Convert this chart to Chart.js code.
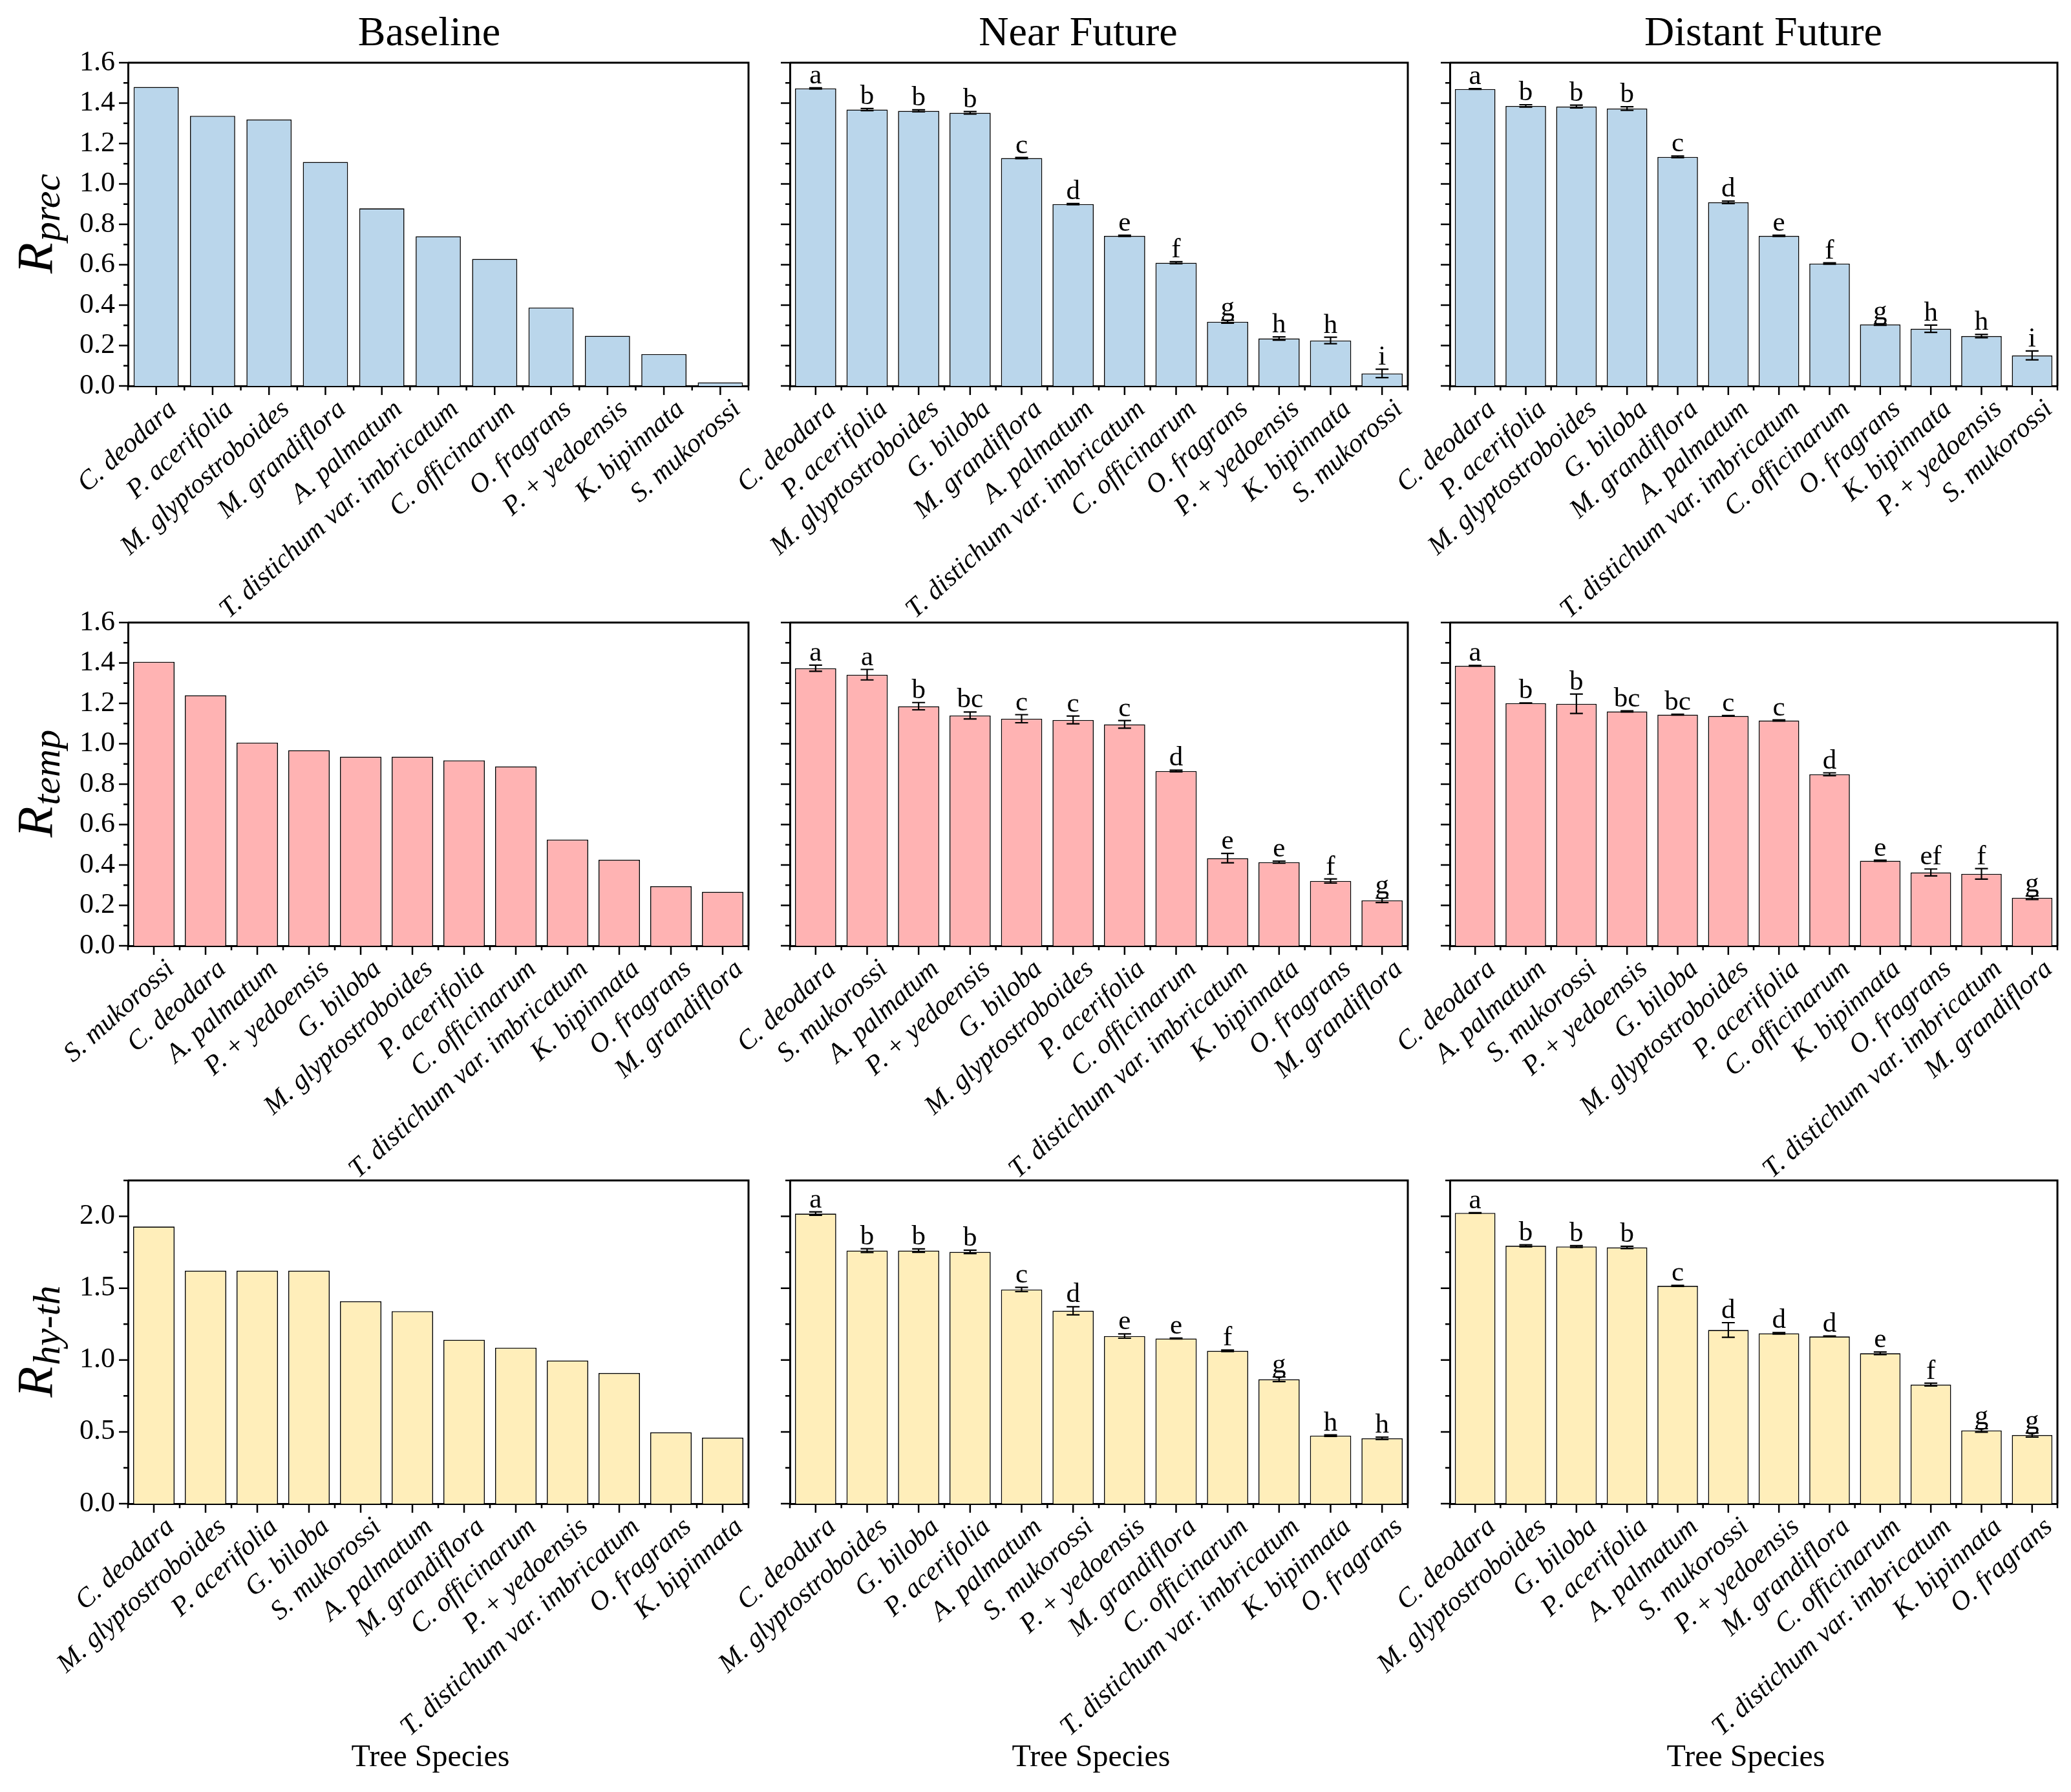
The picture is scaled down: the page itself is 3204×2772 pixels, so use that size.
<!DOCTYPE html>
<html>
<head>
<meta charset="utf-8">
<script src="https://cdn.jsdelivr.net/npm/chart.js@4.4.1/dist/chart.umd.min.js"></script>
<style>
  html, body { margin: 0; padding: 0; background: #fff; }
  #wrap { position: relative; width: 3204px; height: 2772px; overflow: hidden; background: #fff; }
  #wrap canvas { position: absolute; }
</style>
</head>
<body>
<div id="wrap"></div>
<script>
// ---- data ----
const precTicks = [0, 0.2, 0.4, 0.6, 0.8, 1.0, 1.2, 1.4, 1.6];
const tempTicks = [0, 0.2, 0.4, 0.6, 0.8, 1.0, 1.2, 1.4, 1.6];
const hythTicks = [0, 0.5, 1.0, 1.5, 2.0];

// R_prec
const precBaseLabels = ['C. deodara', 'P. acerifolia', 'M. glyptostroboides', 'M. grandiflora', 'A. palmatum',
  'T. distichum var. imbricatum', 'C. officinarum', 'O. fragrans', 'P. + yedoensis', 'K. bipinnata', 'S. mukorossi'];
const precBaseValues = [1.48, 1.337, 1.319, 1.109, 0.879, 0.741, 0.629, 0.388, 0.248, 0.158, 0.018];

const precNearLabels = ['C. deodara', 'P. acerifolia', 'M. glyptostroboides', 'G. biloba', 'M. grandiflora', 'A. palmatum',
  'T. distichum var. imbricatum', 'C. officinarum', 'O. fragrans', 'P. + yedoensis', 'K. bipinnata', 'S. mukorossi'];
const precNearValues = [1.473, 1.368, 1.362, 1.352, 1.128, 0.900, 0.743, 0.610, 0.318, 0.235, 0.225, 0.062];
const precNearErrors = [0.003, 0.005, 0.005, 0.006, 0.003, 0.003, 0.003, 0.005, 0.007, 0.008, 0.016, 0.021];
const precNearGroups = ['a', 'b', 'b', 'b', 'c', 'd', 'e', 'f', 'g', 'h', 'h', 'i'];

const precFarLabels = ['C. deodara', 'P. acerifolia', 'M. glyptostroboides', 'G. biloba', 'M. grandiflora', 'A. palmatum',
  'T. distichum var. imbricatum', 'C. officinarum', 'O. fragrans', 'K. bipinnata', 'P. + yedoensis', 'S. mukorossi'];
const precFarValues = [1.470, 1.386, 1.383, 1.373, 1.134, 0.909, 0.743, 0.606, 0.304, 0.283, 0.247, 0.151];
const precFarErrors = [0.002, 0.006, 0.007, 0.009, 0.004, 0.006, 0.003, 0.003, 0.004, 0.018, 0.008, 0.022];
const precFarGroups = ['a', 'b', 'b', 'b', 'c', 'd', 'e', 'f', 'g', 'h', 'h', 'i'];

// R_temp
const tempBaseLabels = ['S. mukorossi', 'C. deodara', 'A. palmatum', 'P. + yedoensis', 'G. biloba', 'M. glyptostroboides',
  'P. acerifolia', 'C. officinarum', 'T. distichum var. imbricatum', 'K. bipinnata', 'O. fragrans', 'M. grandiflora'];
const tempBaseValues = [1.406, 1.240, 1.006, 0.968, 0.936, 0.936, 0.918, 0.888, 0.526, 0.426, 0.295, 0.267];

const tempNearLabels = ['C. deodara', 'S. mukorossi', 'A. palmatum', 'P. + yedoensis', 'G. biloba', 'M. glyptostroboides',
  'P. acerifolia', 'C. officinarum', 'T. distichum var. imbricatum', 'K. bipinnata', 'O. fragrans', 'M. grandiflora'];
const tempNearValues = [1.374, 1.342, 1.186, 1.140, 1.124, 1.118, 1.096, 0.865, 0.434, 0.414, 0.321, 0.225];
const tempNearErrors = [0.015, 0.026, 0.018, 0.017, 0.020, 0.019, 0.019, 0.004, 0.023, 0.005, 0.010, 0.011];
const tempNearGroups = ['a', 'a', 'b', 'bc', 'c', 'c', 'c', 'd', 'e', 'e', 'f', 'g'];

const tempFarLabels = ['C. deodara', 'A. palmatum', 'S. mukorossi', 'P. + yedoensis', 'G. biloba', 'M. glyptostroboides',
  'P. acerifolia', 'C. officinarum', 'K. bipinnata', 'O. fragrans', 'T. distichum var. imbricatum', 'M. grandiflora'];
const tempFarValues = [1.386, 1.201, 1.198, 1.160, 1.144, 1.138, 1.115, 0.849, 0.421, 0.363, 0.356, 0.238];
const tempFarErrors = [0.002, 0.001, 0.048, 0.003, 0.002, 0.002, 0.003, 0.007, 0.003, 0.017, 0.026, 0.009];
const tempFarGroups = ['a', 'b', 'b', 'bc', 'bc', 'c', 'c', 'd', 'e', 'ef', 'f', 'g'];

// R_hy-th
const hythBaseLabels = ['C. deodara', 'M. glyptostroboides', 'P. acerifolia', 'G. biloba', 'S. mukorossi', 'A. palmatum',
  'M. grandiflora', 'C. officinarum', 'P. + yedoensis', 'T. distichum var. imbricatum', 'O. fragrans', 'K. bipinnata'];
const hythBaseValues = [1.929, 1.622, 1.622, 1.622, 1.409, 1.340, 1.141, 1.086, 0.997, 0.910, 0.497, 0.460];

const hythNearLabels = ['C. deodura', 'M. glyptostroboides', 'G. biloba', 'P. acerifolia', 'A. palmatum', 'S. mukorossi',
  'P. + yedoensis', 'M. grandiflora', 'C. officinarum', 'T. distichum var. imbricatum', 'K. bipinnata', 'O. fragrans'];
const hythNearValues = [2.019, 1.762, 1.762, 1.753, 1.491, 1.343, 1.167, 1.150, 1.064, 0.866, 0.474, 0.455];
const hythNearErrors = [0.012, 0.013, 0.012, 0.012, 0.015, 0.028, 0.015, 0.003, 0.005, 0.016, 0.005, 0.008];
const hythNearGroups = ['a', 'b', 'b', 'b', 'c', 'd', 'e', 'e', 'f', 'g', 'h', 'h'];

const hythFarLabels = ['C. deodara', 'M. glyptostroboides', 'G. biloba', 'P. acerifolia', 'A. palmatum', 'S. mukorossi',
  'P. + yedoensis', 'M. grandiflora', 'C. officinarum', 'T. distichum var. imbricatum', 'K. bipinnata', 'O. fragrans'];
const hythFarValues = [2.024, 1.795, 1.790, 1.784, 1.516, 1.209, 1.186, 1.164, 1.047, 0.829, 0.510, 0.478];
const hythFarErrors = [0.002, 0.007, 0.006, 0.008, 0.003, 0.051, 0.005, 0.003, 0.009, 0.010, 0.012, 0.014];
const hythFarGroups = ['a', 'b', 'b', 'b', 'c', 'd', 'd', 'd', 'e', 'f', 'g', 'g'];

const periodTitles = ['Baseline', 'Near Future', 'Distant Future'];
const xTitle = 'Tree Species';

// ---- layout ----
const serif = '"Liberation Serif", "Times New Roman", serif';
const blue = '#BAD6EB', pink = '#FFB3B3', yellow = '#FFEEBA';
const colLefts = [198, 1222, 2243];
const colWidths = [960, 956, 940];
const titleX = [664, 1668, 2728];
const rowTops = [97, 963, 1826];
const plotH = 500;
const padL = 190, padT = 100, padR = 24, padB = 440;

const panels = [
  { r: 0, c: 0, labels: precBaseLabels, values: precBaseValues, color: blue, ticks: precTicks, max: 1.6, sub: 'prec' },
  { r: 0, c: 1, labels: precNearLabels, values: precNearValues, errors: precNearErrors, groups: precNearGroups, color: blue, ticks: precTicks, max: 1.6 },
  { r: 0, c: 2, labels: precFarLabels, values: precFarValues, errors: precFarErrors, groups: precFarGroups, color: blue, ticks: precTicks, max: 1.6 },
  { r: 1, c: 0, labels: tempBaseLabels, values: tempBaseValues, color: pink, ticks: tempTicks, max: 1.6, sub: 'temp' },
  { r: 1, c: 1, labels: tempNearLabels, values: tempNearValues, errors: tempNearErrors, groups: tempNearGroups, color: pink, ticks: tempTicks, max: 1.6 },
  { r: 1, c: 2, labels: tempFarLabels, values: tempFarValues, errors: tempFarErrors, groups: tempFarGroups, color: pink, ticks: tempTicks, max: 1.6 },
  { r: 2, c: 0, labels: hythBaseLabels, values: hythBaseValues, color: yellow, ticks: hythTicks, max: 2.25, sub: 'hy-th' },
  { r: 2, c: 1, labels: hythNearLabels, values: hythNearValues, errors: hythNearErrors, groups: hythNearGroups, color: yellow, ticks: hythTicks, max: 2.25 },
  { r: 2, c: 2, labels: hythFarLabels, values: hythFarValues, errors: hythFarErrors, groups: hythFarGroups, color: yellow, ticks: hythTicks, max: 2.25 }
];

// frame, ticks, error bars, letters and titles
function makeDecor(p) {
  return {
    id: 'decor',
    afterDatasetsDraw(chart) {
      const { ctx, chartArea: a } = chart;
      const x = chart.scales.x, y = chart.scales.y;
      ctx.save();
      ctx.strokeStyle = '#000';
      ctx.fillStyle = '#000';

      ctx.lineWidth = 3;
      ctx.beginPath();
      ctx.moveTo(a.left, a.top);
      ctx.lineTo(a.right, a.top);
      ctx.lineTo(a.right, a.bottom);
      ctx.stroke();

      // y major / minor ticks
      const step = p.ticks[1] - p.ticks[0];
      ctx.lineWidth = 2.5;
      ctx.beginPath();
      p.ticks.forEach(v => {
        const py = y.getPixelForValue(v);
        ctx.moveTo(a.left - 14, py); ctx.lineTo(a.left, py);
        const mv = v + step / 2;
        if (mv <= p.max + 1e-9) {
          const my = y.getPixelForValue(mv);
          ctx.moveTo(a.left - 7, my); ctx.lineTo(a.left, my);
        }
      });
      // x ticks at centers and boundaries
      const n = p.labels.length;
      for (let i = 0; i < n; i++) {
        const px = x.getPixelForValue(i);
        ctx.moveTo(px, a.bottom); ctx.lineTo(px, a.bottom + 14);
      }
      for (let i = 0; i <= n; i++) {
        const px = x.getPixelForValue(i - 0.5);
        ctx.moveTo(px, a.bottom); ctx.lineTo(px, a.bottom + 7);
      }
      ctx.stroke();

      if (p.errors) {
        const meta = chart.getDatasetMeta(0);
        ctx.lineWidth = 2.2;
        ctx.font = '43px ' + serif;
        ctx.textAlign = 'center';
        ctx.textBaseline = 'alphabetic';
        p.values.forEach((v, i) => {
          const bx = meta.data[i].x;
          const top = y.getPixelForValue(v + p.errors[i]);
          const bot = y.getPixelForValue(v - p.errors[i]);
          ctx.beginPath();
          ctx.moveTo(bx, top); ctx.lineTo(bx, bot);
          ctx.moveTo(bx - 10, top); ctx.lineTo(bx + 10, top);
          ctx.moveTo(bx - 10, bot); ctx.lineTo(bx + 10, bot);
          ctx.stroke();
          ctx.fillText(p.groups[i], bx, top - 7);
        });
      }

      // column title
      ctx.textAlign = 'center';
      ctx.textBaseline = 'middle';
      const off = colLefts[p.c] - padL;
      if (p.r === 0) {
        ctx.font = '64px ' + serif;
        ctx.fillText(periodTitles[p.c], titleX[p.c] - off, a.top - 44);
      }
      if (p.r === 2) {
        ctx.font = '48px ' + serif;
        ctx.fillText(xTitle, (a.left + a.right) / 2 - 12, a.bottom + 393);
      }

      // y title R with subscript
      if (p.sub) {
        ctx.translate(a.left - 118, (a.top + a.bottom) / 2);
        ctx.rotate(-Math.PI / 2);
        ctx.textAlign = 'left';
        ctx.textBaseline = 'alphabetic';
        ctx.font = 'italic 78px ' + serif;
        const wR = ctx.measureText('R').width;
        ctx.font = 'italic 60px ' + serif;
        const wS = ctx.measureText(p.sub).width;
        const x0 = -(wR + wS) / 2;
        ctx.font = 'italic 78px ' + serif;
        ctx.fillText('R', x0, 0);
        ctx.font = 'italic 60px ' + serif;
        ctx.fillText(p.sub, x0 + wR + 2, 12);
      }
      ctx.restore();
    }
  };
}

const wrap = document.getElementById('wrap');
panels.forEach(p => {
  const cv = document.createElement('canvas');
  const w = padL + colWidths[p.c] + padR;
  const h = padT + plotH + padB;
  cv.width = w; cv.height = h;
  cv.style.width = w + 'px'; cv.style.height = h + 'px';
  cv.style.left = (colLefts[p.c] - padL) + 'px';
  cv.style.top = (rowTops[p.r] - padT) + 'px';
  wrap.appendChild(cv);

  new Chart(cv, {
    type: 'bar',
    data: {
      labels: p.labels,
      datasets: [{
        data: p.values,
        backgroundColor: p.color,
        borderColor: '#000',
        borderWidth: 1.6,
        barPercentage: 0.8,
        categoryPercentage: 1.0
      }]
    },
    options: {
      responsive: false,
      animation: false,
      devicePixelRatio: 1,
      layout: { padding: { top: padT, right: padR, left: 0, bottom: 0 } },
      plugins: { legend: { display: false }, tooltip: { enabled: false } },
      scales: {
        x: {
          grid: { display: false, drawTicks: false },
          border: { display: true, color: '#000', width: 3 },
          ticks: {
            autoSkip: false, minRotation: 42, maxRotation: 42, padding: 12, labelOffset: 26, color: '#000',
            font: { family: serif, size: 42, style: 'italic' }
          },
          afterFit: s => { s.height = padB; }
        },
        y: {
          min: 0, max: p.max,
          grid: { display: false, drawTicks: false },
          border: { display: true, color: '#000', width: 3 },
          afterBuildTicks: s => { s.ticks = p.ticks.map(v => ({ value: v })); },
          ticks: {
            display: p.c === 0, padding: 20, color: '#000',
            font: { family: serif, size: 44 },
            callback: v => Number(v).toFixed(1)
          },
          afterFit: s => { s.width = padL; }
        }
      }
    },
    plugins: [makeDecor(p)]
  });
});
</script>
</body>
</html>
